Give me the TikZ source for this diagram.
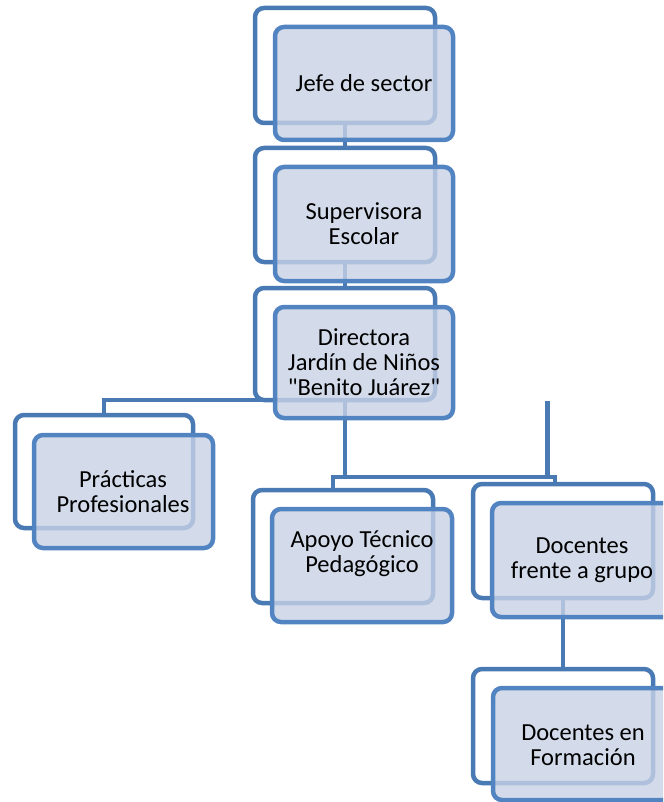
\documentclass[tikz,border=0pt]{standalone}
\usepackage{fontspec}
\setmainfont{Carlito}[Ligatures=TeXOff]
\definecolor{backline}{RGB}{74,122,180}
\definecolor{frontline}{RGB}{82,132,194}
\definecolor{frontfill}{RGB}{200,210,229}
\definecolor{conn}{RGB}{74,122,180}
\tikzset{
  backbox/.style={draw=backline, line width=4.5pt, fill=white, rounded corners=9pt, inner sep=0pt},
  frontbox/.style={draw=frontline, line width=4.5pt, fill=frontfill, fill opacity=0.8, rounded corners=9pt, inner sep=0pt},
  txt/.style={align=center, font=\fontsize{24.5}{25}\selectfont, text=black, inner sep=0pt},
  link/.style={draw=conn, line width=4.5pt}
}
\newcommand{\boxat}[6]{% name, x1, y1, x2, y2 (stroke centres), style
  \node[#6, minimum width={(#4)-(#2)}, minimum height={(#5)-(#3)}] (#1) at ({((#2)+(#4))/2},{((#3)+(#5))/2}) {};}
\begin{document}
\begin{tikzpicture}[x=1pt,y=-1pt]
\useasboundingbox (0,0) rectangle (663,802);
\clip (0,0) rectangle (663,802);
% connector bend points
\coordinate (barL) at (333,477);
\coordinate (barR) at (555,477);
\coordinate (barM) at (345,477);
\coordinate (strayTop) at (547.5,401);
\coordinate (strayBot) at (547.5,477);
\coordinate (leftBend) at (104,400);
\coordinate (dirBase) at (345,400);
% back boxes (white)
\boxat{b1}{255}{8}{435}{123}{backbox}
\boxat{b2}{255}{148}{435}{262}{backbox}
\boxat{b3}{255}{288}{435}{400}{backbox}
\boxat{bp}{15}{415}{193}{528}{backbox}
\boxat{ba}{253}{490}{433}{603}{backbox}
\boxat{bd}{473}{484}{653}{598}{backbox}
\boxat{bf}{473}{669}{653}{783}{backbox}
% connectors
\path[link] (b1.south) -- (b2.north);
\path[link] (b2.south) -- (b3.north);
\path[link] (dirBase) -- (leftBend) -- (leftBend |- bp.north);
\path[link] (dirBase) -- (barM);
\path[link] (barL |- ba.north) -- (barL) -- (barR) -- (barR |- bd.north);
\path[link] (strayTop) -- (strayBot);
\path[link] (bd.south) -- (bf.north);
% front boxes
\boxat{f1}{275}{27}{453}{140}{frontbox}
\boxat{f2}{275}{167}{453}{281}{frontbox}
\boxat{f3}{275}{307}{453}{418}{frontbox}
\boxat{fp}{34}{435}{213}{548}{frontbox}
\boxat{fa}{272}{509}{452}{622}{frontbox}
\boxat{fd}{492}{503}{672}{617}{frontbox}
\boxat{ff}{493}{688}{673}{800}{frontbox}
% texts
\node[txt] (t1) at (364,83) {Jefe de sector};
\node[txt] (t2) at (364,224) {Supervisora\\Escolar};
\node[txt] (t3) at (364,362) {Directora\\Jardín de Niños\\"Benito Juárez"};
\node[txt] (tp) at (123,492) {Prácticas\\Profesionales};
\node[txt] (ta) at (362,554) {Apoyo Técnico\\Pedagógico};
\node[txt] (td) at (582,560) {Docentes\\frente a grupo};
\node[txt] (tf) at (583,745) {Docentes en\\Formación};
\end{tikzpicture}
\end{document}
